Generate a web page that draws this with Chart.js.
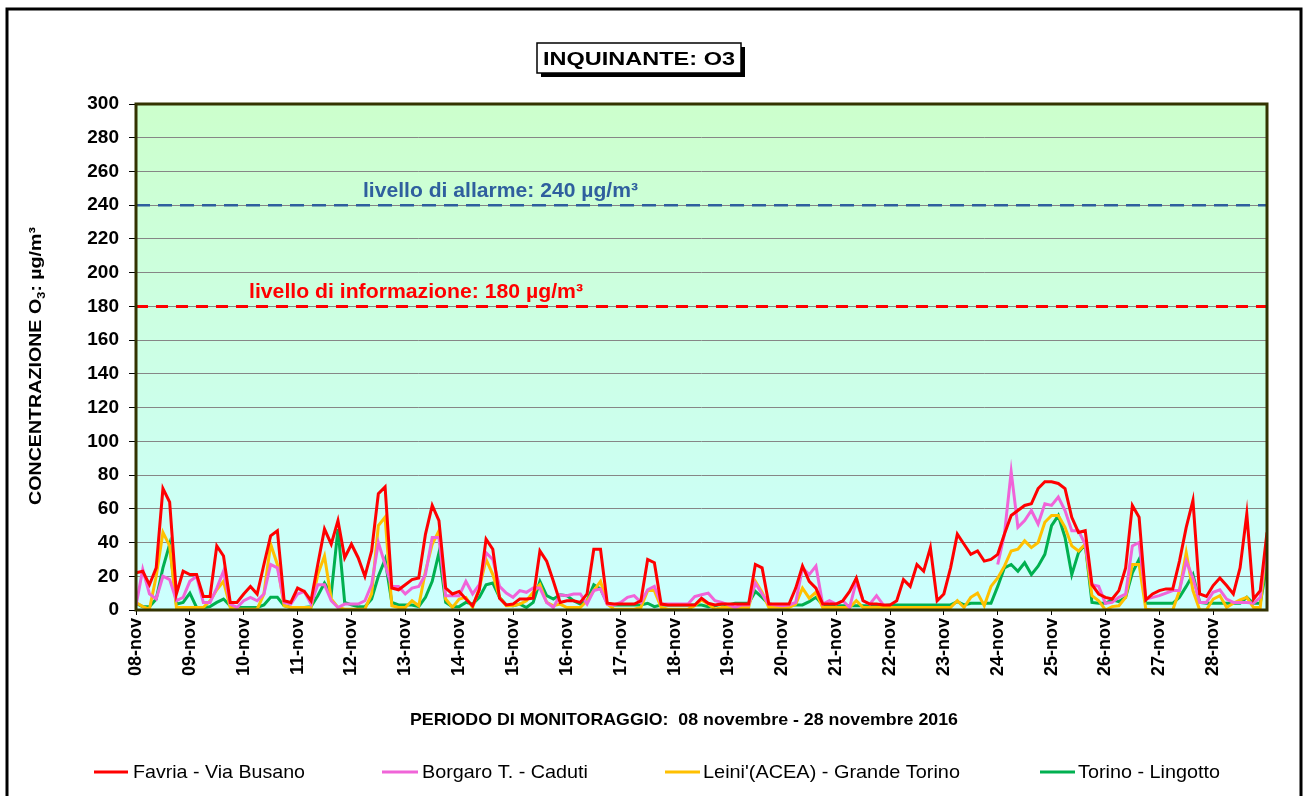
<!DOCTYPE html>
<html lang="it">
<head>
<meta charset="UTF-8">
<title>Inquinante O3</title>
<script src="https://cdn.jsdelivr.net/npm/chart.js"></script>
<style>
  html, body { margin: 0; padding: 0; background: #fff; }
  canvas { display: block; }
</style>
</head>
<body>
<canvas id="grafico" width="1305" height="796"></canvas>
<script>
// dati orari campionati ogni 3 ore, 08-nov 00:00 -> 29-nov 00:00
const STEP = 3;
const giorni = ['08-nov','09-nov','10-nov','11-nov','12-nov','13-nov','14-nov','15-nov','16-nov','17-nov','18-nov',
  '19-nov','20-nov','21-nov','22-nov','23-nov','24-nov','25-nov','26-nov','27-nov','28-nov'];
const yTicks = [0, 300, 20];
const sogliaAllarme = 240;
const sogliaInfo = 180;

const favria = [
  22, 23, 15, 25, 72, 64, 9.5, 23, 21, 21,
  8, 8, 38, 32, 4.5, 4.5, 9.5, 14, 9.5, 27,
  44, 47, 5.5, 4.5, 13, 11, 5.5, 27, 48, 39,
  53, 31, 39, 31, 20, 35, 69, 73, 13, 12,
  15, 18, 19, 45, 62, 53, 13, 9.5, 11, 6.5,
  2.5, 12, 42, 36, 7, 3, 3.5, 6.5, 6.5, 7,
  35, 29, 17, 4.5, 5.5, 5.5, 4.5, 9.5, 36, 36,
  4, 3.5, 3.5, 3.5, 3.5, 5.5, 30, 28, 3.5, 3,
  3, 3, 3, 3, 7, 4, 3, 3.5, 3.5, 3.5,
  3.5, 3.5, 27, 25, 3.5, 3.5, 3.5, 3.5, 13, 26,
  17, 13, 3.5, 3.5, 3.5, 5.5, 11, 19, 5.5, 3.5,
  3.5, 3, 3, 5.5, 18, 14, 27, 23, 37, 5.5,
  9.5, 25, 45, 39, 33, 35, 29, 30, 33, 45,
  56, 59, 62, 63, 72, 76, 76, 75, 72, 55,
  46, 47, 15, 9.5, 7.5, 6.5, 11.5, 25, 62, 55,
  6, 9.5, 11.5, 12.5, 12.5, 29, 49, 65, 9.5, 8,
  14.5, 19, 14.5, 9.5, 25, 57, 6.5, 11.5, 46
];
const borgaro = [
  2.5, 24, 9.5, 6.5, 20, 18, 5.5, 7.5, 17, 20,
  4.5, 4.5, 13, 23, 3.5, 1.5, 5.5, 7.5, 5.5, 9.5,
  27, 25, 4.5, 3.5, 9.5, 11, 3.5, 15, 15, 5.5,
  1.5, 3.5, 3.5, 3.5, 5.5, 15, 40, 27, 14, 14,
  9.5, 13, 14, 21, 43, 43, 8.5, 8.5, 8.5, 17,
  9.5, 15, 34, 30, 14, 10, 7.5, 11.5, 10.5, 13,
  13, 4.5, 1.5, 9, 8.5, 9.5, 9.5, 3.5, 11.5, 12.5,
  3.5, 3, 4.5, 7.5, 8.5, 4.5, 12, 14, 3.5, 3.5,
  3.5, 3.5, 3.5, 8, 9, 10, 5.5, 4.5, 3, 1.5,
  3, 3, 16, 9.5, 3.5, 3, 2.5, 3, 4.5, 25,
  21, 26, 3.5, 5.5, 3.5, 5.5, 1.5, 17, 5.5, 3.5,
  8.5, 3, null, null, null, null, null, null, null, null,
  null, null, null, null, null, null, null, null, 27, 45,
  82, 49, 53, 59, 51, 63, 62, 67, 59, 47,
  47, 39, 15, 14, 4, 4.5, 7.5, 9.5, 38, 40,
  6.5, 7.5, 8.5, 10, 11.5, 11.5, 29, 19, 4.5, 4.5,
  10.5, 12, 6.5, 4.5, 4.5, 4.5, 4, 7.5, 43
];
const leini = [
  4.5, 2, 0.5, 20, 46, 38, 1.5, 1.5, 1.5, 1.5,
  1.5, 5.5, 12, 17, 1.5, 0.5, 0.5, 0.5, 0.5, 9.5,
  39, 27, 2.5, 1.5, 1.5, 1.5, 1.5, 21, 32, 6.5,
  1.5, 0.5, 0.5, 0.5, 0.5, 9.5, 50, 55, 2.5, 1.5,
  1.5, 5.5, 2.5, 23, 39, 47, 6.5, 1.5, 6.5, 7.5,
  1.5, 13, 30, 21, 7.5, 2.5, 2.5, 3.5, 5.5, 10.5,
  15, 4.5, 2.5, 3.5, 1.5, 1.5, 1.5, 5.5, 11.5, 17,
  3.5, 0.5, 0.5, 0.5, 0.5, 1.5, 11.5, 11.5, 1.5, 0.5,
  0.5, 0.5, 0.5, 2.5, 6, 3.5, 0.5, 1.5, 1.5, 1.5,
  1.5, 1.5, 17, 10.5, 1.5, 1.5, 1.5, 1.5, 3.5, 13,
  7, 10.5, 1.5, 1.5, 1.5, 1.5, 1.5, 5.5, 1.5, 1.5,
  1.5, 1.5, 1.5, 1.5, 1.5, 1.5, 1.5, 1.5, 1.5, 1.5,
  1.5, 1.5, 5.5, 1.5, 7.5, 10, 2.5, 14, 19, 26,
  35, 36, 41, 37, 40, 52, 56, 56, 49, 38,
  35, 39, 8.5, 5.5, 0, 2, 2.5, 7.5, 27, 27,
  0.5, 0, 0, 0, 0, 11.5, 34, 11.5, 0, 0,
  6.5, 8.5, 1.5, 4, 6, 7.5, 1.5, 1.5, 41
];
const lingotto = [
  4, 2, 2, 6.5, 25, 39, 3.5, 4.5, 10, 1.5,
  1.5, 2, 4.5, 6.5, 2.5, 1.5, 1.5, 1.5, 1.5, 3,
  7.5, 7.5, 2.5, 1.5, 1.5, 1.5, 2, 8.5, 16, 9.5,
  48, 4.5, 3, 2, 2, 6.5, 20, 30, 4.5, 3,
  3, 3, 2, 7.5, 17, 34, 4.5, 2, 2, 4.5,
  3.5, 7.5, 15, 16, 7.5, 3, 2.5, 3.5, 1.5, 4.5,
  17, 8.5, 6.5, 9, 8.5, 5.5, 3.5, 5.5, 15, 12.5,
  4, 3, 3, 3, 3, 3, 4, 2, 3, 3,
  3, 3, 3, 3, 3, 2, 2.5, 3.5, 3, 4,
  4, 4, 11, 7.5, 3.5, 3, 3, 3, 3, 3,
  5, 7.5, 3, 2.5, 2.5, 2.5, 2.5, 2.5, 2.5, 2.5,
  2.5, 2.5, 3, 3, 3, 3, 3, 3, 3, 3,
  3, 3, 5, 3, 4, 4, 4, 4, 14, 25,
  27, 23, 28, 21, 26, 33, 50, 56, 43, 21,
  34, 39, 4.5, 4, 4, 6, 5, 7.5, 22, 30,
  4, 4, 4, 4, 4, 7.5, 14, 21, 4.5, 4,
  4, 4, 4, 4, 4, 7.5, 4, 4, 27
];

const nomi = ['Favria - Via Busano', 'Borgaro T. - Caduti', "Leini'(ACEA) - Grande Torino", 'Torino - Lingotto'];
const colori = ['#ff0000', '#f064d8', '#ffc000', '#00b050'];

const FONT = '"Liberation Sans", Arial, sans-serif';
const fine = giorni.length * 24;

function punti(arr) {
  return arr.map((v, i) => ({ x: i * STEP, y: v }));
}

// testo adattato a una larghezza fissa
function testo(ctx, txt, x, y, w, font, color) {
  ctx.save();
  ctx.font = font;
  ctx.fillStyle = color;
  ctx.textAlign = 'left';
  ctx.textBaseline = 'alphabetic';
  const m = ctx.measureText(txt).width;
  ctx.translate(x, y);
  ctx.scale(w / m, 1);
  ctx.fillText(txt, 0, 0);
  ctx.restore();
}

const decorazioni = {
  id: 'decorazioni',
  beforeDraw(chart) {
    const { ctx, chartArea: a } = chart;
    const g = ctx.createLinearGradient(0, a.top, 0, a.bottom);
    g.addColorStop(0, '#ccffcc');
    g.addColorStop(1, '#ccffff');
    ctx.save();
    ctx.fillStyle = g;
    ctx.fillRect(a.left, a.top, a.right - a.left, a.bottom - a.top);
    ctx.restore();
  },
  afterDraw(chart) {
    const { ctx, chartArea: a } = chart;
    ctx.save();
    // bordo area grafico
    ctx.strokeStyle = '#333300';
    ctx.lineWidth = 3;
    ctx.strokeRect(a.left, a.top, a.right - a.left, a.bottom - a.top);

    // cornice esterna
    ctx.strokeStyle = '#000';
    ctx.lineWidth = 3;
    ctx.strokeRect(7, 9, 1294, 800);

    // titolo con ombra
    ctx.fillStyle = '#000';
    ctx.fillRect(541, 47, 204, 30);
    ctx.fillStyle = '#fff';
    ctx.fillRect(537, 43, 204, 30);
    ctx.strokeStyle = '#000';
    ctx.lineWidth = 1.5;
    ctx.strokeRect(537, 43, 204, 30);
    testo(ctx, 'INQUINANTE: O3', 543, 65, 192, 'bold 19px ' + FONT, '#000');

    // etichette soglie
    testo(ctx, 'livello di allarme: 240 µg/m³', 363, 197, 275, 'bold 21px ' + FONT, '#2f5f9e');
    testo(ctx, 'livello di informazione: 180 µg/m³', 249, 298, 334, 'bold 21px ' + FONT, '#ff0000');

    // titolo asse y con pedice
    ctx.save();
    ctx.translate(41, 366);
    ctx.rotate(-Math.PI / 2);
    const fb = 'bold 17px ' + FONT, fs = 'bold 11px ' + FONT;
    ctx.font = fb; const w1 = ctx.measureText('CONCENTRAZIONE O').width;
    ctx.font = fs; const w2 = ctx.measureText('3').width;
    ctx.font = fb; const w3 = ctx.measureText(': µg/m³').width;
    const k = 278 / (w1 + w2 + w3);
    ctx.scale(k, 1);
    const x0 = -(w1 + w2 + w3) / 2;
    ctx.fillStyle = '#000';
    ctx.font = fb; ctx.fillText('CONCENTRAZIONE O', x0, 0);
    ctx.font = fs; ctx.fillText('3', x0 + w1, 4);
    ctx.font = fb; ctx.fillText(': µg/m³', x0 + w1 + w2, 0);
    ctx.restore();

    // titolo asse x
    testo(ctx, 'PERIODO DI MONITORAGGIO:  08 novembre - 28 novembre 2016', 410, 725, 548, 'bold 17px ' + FONT, '#000');

    // legenda
    const leg = [[94, 128, 133, 172], [382, 418, 422, 166], [665, 700, 703, 257], [1040, 1075, 1078, 142]];
    leg.forEach((p, i) => {
      ctx.strokeStyle = colori[i];
      ctx.lineWidth = 3;
      ctx.beginPath();
      ctx.moveTo(p[0], 772);
      ctx.lineTo(p[1], 772);
      ctx.stroke();
      testo(ctx, nomi[i], p[2], 778, p[3], '19px ' + FONT, '#000');
    });
    ctx.restore();
  }
};

const serie = [favria, borgaro, leini, lingotto].map((arr, i) => ({
  label: nomi[i],
  data: punti(arr),
  borderColor: colori[i],
  borderWidth: 3,
  pointRadius: 0,
  tension: 0,
  spanGaps: false
}));

serie.push({
  label: 'allarme',
  data: [{ x: 0, y: sogliaAllarme }, { x: fine, y: sogliaAllarme }],
  borderColor: '#2f5f9e',
  borderWidth: 2.5,
  borderDash: [14, 8],
  pointRadius: 0
});
serie.push({
  label: 'informazione',
  data: [{ x: 0, y: sogliaInfo }, { x: fine, y: sogliaInfo }],
  borderColor: '#ff0000',
  borderWidth: 3,
  borderDash: [12, 8],
  pointRadius: 0
});

new Chart(document.getElementById('grafico'), {
  type: 'line',
  data: { datasets: serie },
  options: {
    responsive: false,
    animation: false,
    devicePixelRatio: 1,
    layout: { padding: { top: 104, right: 38, left: 0, bottom: 0 } },
    plugins: { legend: { display: false }, tooltip: { enabled: false } },
    scales: {
      x: {
        type: 'linear',
        min: 0,
        max: fine,
        afterBuildTicks: s => { s.ticks = giorni.map((d, i) => ({ value: i * 24 })); },
        afterFit: s => { s.height = 186; },
        ticks: {
          autoSkip: false,
          minRotation: 90,
          maxRotation: 90,
          padding: 3,
          color: '#000',
          font: { family: FONT, size: 18, weight: 'bold' },
          callback: (v, i) => giorni[i]
        },
        grid: { drawOnChartArea: false, tickLength: 5, color: '#000' },
        border: { display: false }
      },
      y: {
        min: yTicks[0],
        max: yTicks[1],
        afterFit: s => { s.width = 136; },
        ticks: {
          stepSize: yTicks[2],
          padding: 10,
          color: '#000',
          font: { family: FONT, size: 19, weight: 'bold' }
        },
        grid: { color: '#868686', lineWidth: 1, tickLength: 7, tickColor: '#000' },
        border: { display: false }
      }
    }
  },
  plugins: [decorazioni]
});
</script>
</body>
</html>
